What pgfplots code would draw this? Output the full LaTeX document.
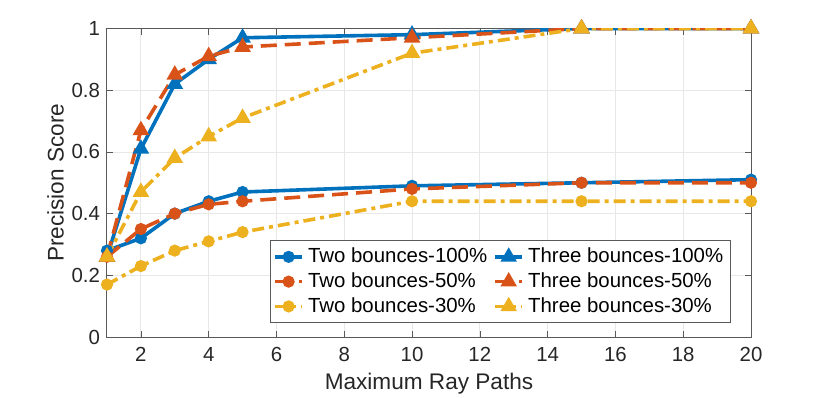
\documentclass[border=0pt]{standalone}
\usepackage{pgfplots}
\pgfplotsset{compat=1.18}
\usepackage{fontspec}
\setmainfont{Liberation Sans}
\definecolor{mblue}{rgb}{0,0.447,0.741}
\definecolor{morange}{rgb}{0.850,0.325,0.098}
\definecolor{myellow}{rgb}{0.929,0.694,0.125}
\begin{document}
\begin{tikzpicture}
\path[use as bounding box] (-53.5pt,-30pt) rectangle (361.5pt,168.5pt);
\begin{axis}[
  at={(0,0)}, anchor=south west,
  scale only axis,
  width=322pt, height=154.25pt,
  xmin=1, xmax=20, ymin=0, ymax=1,
  xtick={2,4,...,20},
  ytick={0,0.2,0.4,0.6,0.8,1},
  yticklabels={0,0.2,0.4,0.6,0.8,1},
  tick align=inside,
  major tick length=3pt,
  grid=major,
  major grid style={gray!18, line width=0.4pt},
  axis line style={gray!70!black, line width=0.5pt},
  tick style={gray!70!black},
  ticklabel style={font=\fontsize{10.2}{12}\selectfont, text=black!85},
  xticklabel style={yshift=-1.5pt},
  /pgf/number format/assume math mode=true,
  xlabel={Maximum Ray Paths},
  ylabel={Precision Score},
  label style={font=\fontsize{11.3}{13}\selectfont, text=black!85},
  xlabel style={yshift=1pt},
  ylabel style={yshift=-3pt},
  legend columns=2,
  legend cell align=left,
  legend style={at={(0.9685,0.046)}, anchor=south east,
    font=\fontsize{10.2}{12}\selectfont, draw=gray!70!black, line width=0.5pt,
    inner sep=1.5pt, row sep=-0.5pt,
    /tikz/every even column/.append style={column sep=1pt}},
  legend image code/.code={\draw[mark repeat=2,mark phase=2,#1]
    plot coordinates {(0cm,0cm) (0.24cm,0cm) (0.48cm,0cm)};},
  every axis plot/.append style={line width=1.8pt},
]
% Two bounces-100%
\addplot[mblue, solid, mark=*, mark size=2.1pt] coordinates {
 (1,0.28) (2,0.32) (3,0.40) (4,0.44) (5,0.47) (10,0.49) (15,0.50) (20,0.51)};
\addlegendentry{Two bounces-100\%}
% Three bounces-100%
\addplot[mblue, solid, mark=triangle*, mark size=3pt] coordinates {
 (1,0.26) (2,0.61) (3,0.82) (4,0.90) (5,0.97) (10,0.98) (15,1.00) (20,1.00)};
\addlegendentry{Three bounces-100\%}
% Two bounces-50%
\addplot[morange, dash pattern=on 8pt off 4pt, mark=*, mark size=2.1pt, mark options={solid}] coordinates {
 (1,0.26) (2,0.35) (3,0.40) (4,0.43) (5,0.44) (10,0.48) (15,0.50) (20,0.50)};
\addlegendentry{Two bounces-50\%}
% Three bounces-50%
\addplot[morange, dash pattern=on 8pt off 4pt, mark=triangle*, mark size=3pt, mark options={solid}] coordinates {
 (1,0.26) (2,0.67) (3,0.85) (4,0.91) (5,0.94) (10,0.97) (15,1.00) (20,1.00)};
\addlegendentry{Three bounces-50\%}
% Two bounces-30%
\addplot[myellow, dash pattern=on 6pt off 2.5pt on 2pt off 2.5pt, mark=*, mark size=2.1pt, mark options={solid}] coordinates {
 (1,0.17) (2,0.23) (3,0.28) (4,0.31) (5,0.34) (10,0.44) (15,0.44) (20,0.44)};
\addlegendentry{Two bounces-30\%}
% Three bounces-30%
\addplot[myellow, dash pattern=on 6pt off 2.5pt on 2pt off 2.5pt, mark=triangle*, mark size=3pt, mark options={solid}] coordinates {
 (1,0.26) (2,0.47) (3,0.58) (4,0.65) (5,0.71) (10,0.92) (15,1.00) (20,1.00)};
\addlegendentry{Three bounces-30\%}
\end{axis}
\end{tikzpicture}
\end{document}
